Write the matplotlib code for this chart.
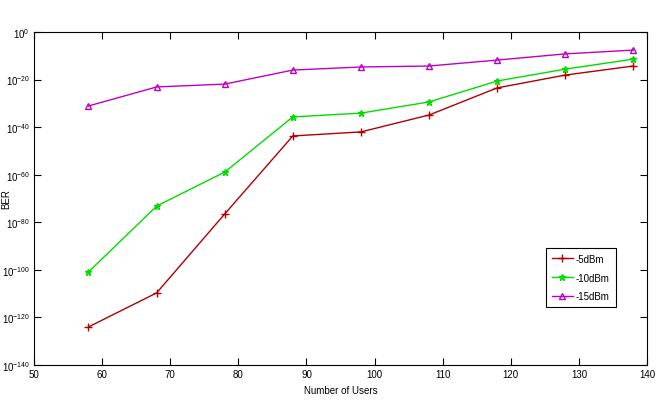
import matplotlib
matplotlib.use('Agg')
import matplotlib.pyplot as plt
from matplotlib import font_manager

users = [58, 68, 78, 88, 98, 108, 118, 128, 138]
# BER exponents (log10)
ber_5dbm = [-124.0, -109.7, -76.5, -43.7, -42.0, -34.9, -23.5, -18.1, -14.3]
ber_10dbm = [-100.9, -73.2, -58.9, -35.7, -34.1, -29.4, -20.6, -15.6, -11.4]
ber_15dbm = [-31.1, -23.1, -21.9, -16.0, -14.7, -14.3, -11.8, -9.2, -7.6]
labels = ['-5dBm', '-10dBm', '-15dBm']
yticks = [0, -20, -40, -60, -80, -100, -120, -140]
xticks = [50, 60, 70, 80, 90, 100, 110, 120, 130, 140]

names = {f.name for f in font_manager.fontManager.ttflist}
fam = 'Liberation Sans Narrow' if 'Liberation Sans Narrow' in names else 'Liberation Sans'
plt.rcParams['font.family'] = [fam, 'DejaVu Sans']
plt.rcParams['mathtext.fontset'] = 'custom'
plt.rcParams['mathtext.rm'] = fam

fig = plt.figure(figsize=(6.59, 4.10), dpi=100)
ax = fig.add_axes([0.0516, 0.1073, 0.9302, 0.8122])

ax.semilogy(users, [10.0 ** v for v in ber_5dbm], color='#b00000', marker='+',
            markersize=6, linewidth=1, label=labels[0])
ax.semilogy(users, [10.0 ** v for v in ber_10dbm], color='#00dd00', marker='*',
            markersize=5, linewidth=1, label=labels[1])
ax.semilogy(users, [10.0 ** v for v in ber_15dbm], color='#c000c0', marker='^',
            markersize=5, markerfacecolor='none', linewidth=1, label=labels[2])

ax.set_xlim(50, 140)
ax.set_ylim(1e-140, 1e0)
ax.set_xticks(xticks)
ax.set_xticklabels([str(t) for t in xticks], fontsize=7)
ax.set_yticks([10.0 ** t for t in yticks])
ax.set_yticklabels([r'$10^{%d}$' % t for t in yticks], fontsize=7)
ax.minorticks_off()
ax.tick_params(direction='in', top=True, right=True, length=5, width=0.8, pad=3)

ax.set_xlabel('Number of Users', fontsize=7)
ax.set_ylabel('BER', fontsize=7)
ax.yaxis.set_label_coords(-0.037, 0.5)

leg = ax.legend(loc='lower left', bbox_to_anchor=(0.827, 0.159, 0.098, 0.177),
                fontsize=7, fancybox=False, framealpha=1, edgecolor='black',
                handlelength=2.2, borderpad=0.6, labelspacing=0.9, handletextpad=0.3)
leg.get_frame().set_linewidth(0.8)

plt.savefig('out.png', dpi=100)
